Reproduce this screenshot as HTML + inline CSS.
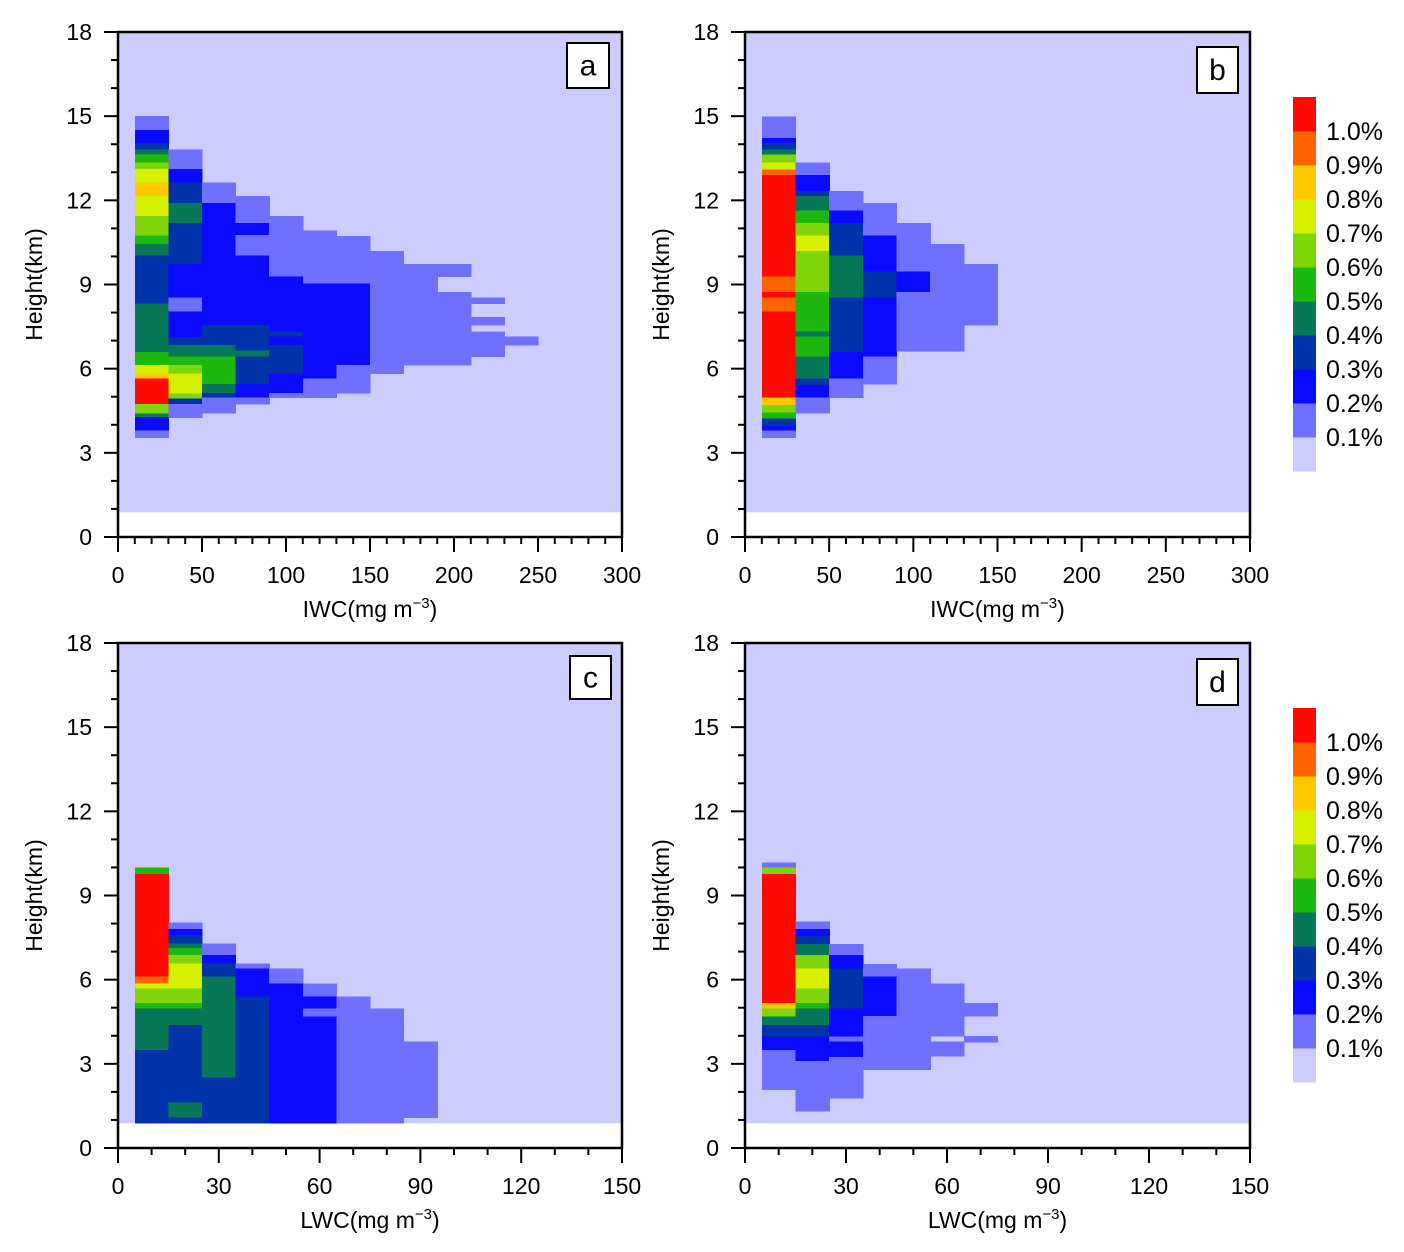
<!DOCTYPE html>
<html><head><meta charset="utf-8">
<style>
html,body{margin:0;padding:0;background:#fff;}
svg{display:block;font-family:"Liberation Sans",sans-serif;}
</style></head>
<body>
<svg id="fig" width="1404" height="1252" viewBox="0 0 1404 1252" xmlns="http://www.w3.org/2000/svg"></svg>
<script>
// ---- data: bin starts (x units) and, per column, [bottom km, top km, frequency %] ----
const binStartsA = [10,30,50,70,90,110,130,150,170,190,210,230];
const segsA = [
 [[14.5,15.0,.15],[14.05,14.5,.25],[13.82,14.05,.35],[13.64,13.82,.45],[13.34,13.64,.55],[13.11,13.34,.65],[12.63,13.11,.75],[12.15,12.63,.85],[11.44,12.15,.75],[10.74,11.44,.65],[10.44,10.74,.55],[10.03,10.44,.45],[8.33,10.03,.35],[6.6,8.33,.45],[6.13,6.6,.55],[5.83,6.13,.75],[5.65,5.83,.85],[4.74,5.65,1.2],[4.41,4.74,.65],[4.27,4.41,.45],[3.79,4.27,.25],[3.55,3.79,.15]],
 [[13.11,13.82,.15],[12.63,13.11,.25],[11.91,12.63,.35],[11.2,11.91,.45],[9.73,11.2,.35],[8.54,9.73,.25],[8.03,8.54,.15],[7.12,8.03,.25],[6.84,7.12,.35],[6.43,6.84,.45],[6.13,6.43,.55],[5.83,6.13,.65],[5.12,5.83,.75],[4.94,5.12,.65],[4.74,4.94,.35],[4.27,4.74,.15]],
 [[11.91,12.63,.15],[7.56,11.91,.25],[6.84,7.56,.35],[6.43,6.84,.45],[5.45,6.43,.55],[5.14,5.45,.45],[4.98,5.14,.35],[4.43,4.98,.15]],
 [[11.2,12.15,.15],[10.76,11.2,.25],[10.03,10.76,.15],[7.56,10.03,.25],[6.65,7.56,.35],[6.43,6.65,.45],[5.45,6.43,.35],[4.98,5.45,.25],[4.74,4.98,.15]],
 [[9.28,11.44,.15],[7.32,9.28,.25],[7.14,7.32,.35],[6.84,7.14,.25],[5.83,6.84,.35],[5.14,5.83,.25],[4.98,5.14,.15]],
 [[9.04,10.92,.15],[5.65,9.04,.25],[4.98,5.65,.15]],
 [[9.04,10.73,.15],[6.13,9.04,.25],[5.14,6.13,.15]],
 [[5.83,10.2,.15]],
 [[6.13,9.73,.15]],
 [[9.28,9.73,.15],[6.13,8.74,.15]],
 [[8.33,8.54,.15],[7.56,7.85,.15],[6.43,7.32,.15]],
 [[6.84,7.14,.15]]
];
const binStartsB = [10,30,50,70,90,110,130];
const segsB = [
 [[14.23,14.98,.15],[14.05,14.23,.25],[13.82,14.05,.35],[13.64,13.82,.45],[13.34,13.64,.65],[13.1,13.34,.75],[12.9,13.1,.95],[9.28,12.9,1.2],[8.74,9.28,.95],[8.54,8.74,1.2],[8.03,8.54,.95],[4.98,8.03,1.2],[4.7,4.98,.85],[4.43,4.7,.65],[4.23,4.43,.55],[3.96,4.23,.35],[3.79,3.96,.25],[3.55,3.79,.15]],
 [[12.9,13.34,.15],[12.34,12.9,.25],[12.15,12.34,.35],[11.63,12.15,.45],[11.2,11.63,.55],[10.74,11.2,.65],[10.2,10.74,.75],[8.74,10.2,.65],[7.32,8.74,.55],[7.14,7.32,.45],[6.43,7.14,.55],[5.65,6.43,.45],[5.41,5.65,.35],[4.98,5.41,.25],[4.43,4.98,.15]],
 [[11.63,12.34,.15],[11.2,11.63,.25],[10.03,11.2,.35],[8.54,10.03,.45],[6.6,8.54,.35],[5.65,6.6,.25],[4.98,5.65,.15]],
 [[10.74,11.91,.15],[9.46,10.74,.25],[8.54,9.46,.35],[6.43,8.54,.25],[5.45,6.43,.15]],
 [[9.46,11.2,.15],[8.74,9.46,.25],[6.64,8.74,.15]],
 [[6.64,10.44,.15]],
 [[7.56,9.73,.15]]
];
const binStartsC = [5,15,25,35,45,55,65,75,85];
const segsC = [
 [[9.77,10.0,.55],[6.11,9.77,1.2],[5.87,6.11,.95],[5.69,5.87,.75],[5.16,5.69,.65],[4.98,5.16,.55],[3.49,4.98,.45],[0.9,3.49,.35]],
 [[7.8,8.04,.15],[7.59,7.8,.25],[7.29,7.59,.35],[7.12,7.29,.45],[6.88,7.12,.55],[6.58,6.88,.65],[5.69,6.58,.75],[5.16,5.69,.65],[4.98,5.16,.55],[4.38,4.98,.45],[1.62,4.38,.35],[1.09,1.62,.45],[0.9,1.09,.35]],
 [[6.88,7.29,.15],[6.58,6.88,.25],[6.11,6.58,.35],[2.51,6.11,.45],[0.9,2.51,.35]],
 [[6.4,6.58,.15],[5.4,6.4,.25],[0.9,5.4,.35]],
 [[5.87,6.4,.15],[0.9,5.87,.25]],
 [[5.4,5.87,.15],[4.98,5.4,.25],[4.68,4.98,.15],[0.9,4.68,.25]],
 [[0.9,5.4,.15]],
 [[0.9,4.98,.15]],
 [[1.09,3.79,.15]]
];
const binStartsD = [5,15,25,35,45,55,65];
const segsD = [
 [[10.0,10.17,.15],[9.77,10.0,.65],[5.16,9.77,1.2],[4.98,5.16,.85],[4.68,4.98,.65],[4.38,4.68,.45],[3.97,4.38,.35],[3.49,3.97,.25],[2.09,3.49,.15]],
 [[7.8,8.07,.15],[7.56,7.8,.25],[7.27,7.56,.35],[6.88,7.27,.45],[6.4,6.88,.65],[5.69,6.4,.75],[5.16,5.69,.65],[4.98,5.16,.55],[4.38,4.98,.45],[3.97,4.38,.35],[3.1,3.97,.25],[1.33,3.1,.15]],
 [[6.88,7.27,.15],[6.4,6.88,.25],[4.98,6.4,.35],[3.97,4.98,.25],[3.79,3.97,.15],[3.25,3.79,.25],[1.79,3.25,.15]],
 [[6.11,6.56,.15],[4.7,6.11,.25],[2.8,4.7,.15]],
 [[2.8,6.4,.15]],
 [[3.99,5.87,.15],[3.28,3.79,.15]],
 [[4.7,5.16,.15],[3.79,3.99,.15]]
];
const levelLabels = ["0.1%","0.2%","0.3%","0.4%","0.5%","0.6%","0.7%","0.8%","0.9%","1.0%"];
const levelThresholds = [0.1,0.2,0.3,0.4,0.5,0.6,0.7,0.8,0.9,1.0];
const yTicks = [0,3,6,9,12,15,18];
const xTicksIWC = [0,50,100,150,200,250,300];
const xTicksLWC = [0,30,60,90,120,150];

const palette = ["#ccccff","#7070ff","#0a0aff","#0033aa","#067757","#1cb80e","#7ed60a","#d4f000","#ffc800","#ff6400","#ff0a00"];
function colorFor(v){let i=0;for(const t of levelThresholds){if(v>=t)i++;}return palette[i];}

const NS="http://www.w3.org/2000/svg";
const svg=document.getElementById('fig');
function mk(tag,attrs,parent){const e=document.createElementNS(NS,tag);for(const k in attrs)e.setAttribute(k,attrs[k]);(parent||svg).appendChild(e);return e;}

const panels=[
 {id:'a',x0:118,x1:622,yT:32,yB:537,xmax:300,bins:binStartsA,w:20,segs:segsA,ticks:xTicksIWC,minor:10,title:'IWC',lab:[567,43,42,45]},
 {id:'b',x0:745,x1:1250,yT:32,yB:537,xmax:300,bins:binStartsB,w:20,segs:segsB,ticks:xTicksIWC,minor:10,title:'IWC',lab:[1197,47,41,46]},
 {id:'c',x0:118,x1:622,yT:643,yB:1148,xmax:150,bins:binStartsC,w:10,segs:segsC,ticks:xTicksLWC,minor:10,title:'LWC',lab:[570,656,41,43]},
 {id:'d',x0:745,x1:1250,yT:643,yB:1148,xmax:150,bins:binStartsD,w:10,segs:segsD,ticks:xTicksLWC,minor:10,title:'LWC',lab:[1197,659,41,46]}
];

panels.forEach(p=>{
 const g=mk('g',{});
 
 
 const sx=v=>p.x0+(v/p.xmax)*(p.x1-p.x0);
 const sy=h=>p.yB-(h/18)*(p.yB-p.yT);
 const bg=mk('rect',{x:p.x0,y:p.yT,width:p.x1-p.x0,height:sy(0.88)-p.yT,fill:palette[0]},g);
 
 
 const cells=mk('g',{'shape-rendering':'crispEdges'},g);
 
 
 p.segs.forEach((col,ci)=>{
  const xa=sx(p.bins[ci]),xb=sx(p.bins[ci]+p.w);
  col.forEach(s=>{
   const r=mk('rect',{x:xa.toFixed(2),y:sy(s[1]).toFixed(2),width:(xb-xa+0.6).toFixed(2),height:(sy(s[0])-sy(s[1])+0.6).toFixed(2),fill:colorFor(s[2])},cells);
   
   
  });
 });
 const fr=mk('rect',{x:p.x0,y:p.yT,width:p.x1-p.x0,height:p.yB-p.yT,fill:'none',stroke:'#000','stroke-width':2.5},g);
 
 
 for(let h=0;h<=18;h++){
  const major=h%3===0;
  mk('line',{x1:p.x0,x2:p.x0-(major?14:7),y1:sy(h),y2:sy(h),stroke:'#000','stroke-width':2},g);
 }
 yTicks.forEach(t=>{
  const tx=mk('text',{x:p.x0-26,y:sy(t)+8,'text-anchor':'end','font-size':23,fill:'#000'},g);
  tx.textContent=t;
  
  
 });
 for(let v=0;v<=p.xmax+0.001;v+=p.minor){
  const major=p.ticks.some(t=>Math.abs(t-v)<0.01);
  mk('line',{x1:sx(v),x2:sx(v),y1:p.yB,y2:p.yB+(major?15:7),stroke:'#000','stroke-width':2},g);
 }
 p.ticks.forEach(t=>{
  const tx=mk('text',{x:sx(t),y:p.yB+46,'text-anchor':'middle','font-size':23,fill:'#000'},g);
  tx.textContent=t;
  
  
 });
 const xt=mk('text',{x:(p.x0+p.x1)/2,y:p.yB+80,'text-anchor':'middle','font-size':23,fill:'#000'},g);
 xt.innerHTML=p.title+'(mg m<tspan font-size="15" dy="-9">\u22123</tspan><tspan dy="9">)</tspan>';
 
 
 const cy=(p.yT+p.yB)/2;
 const yt=mk('text',{x:p.x0-76,y:cy,'text-anchor':'middle','font-size':23,fill:'#000',transform:'rotate(-90 '+(p.x0-76)+' '+cy+')'},g);
 yt.textContent='Height(km)';
 
 
 const lb=mk('rect',{x:p.lab[0],y:p.lab[1],width:p.lab[2],height:p.lab[3],fill:'#fff',stroke:'#000','stroke-width':2},g);
 
 
 const lt=mk('text',{x:p.lab[0]+p.lab[2]/2,y:p.lab[1]+p.lab[3]/2+10,'text-anchor':'middle','font-size':30,fill:'#000'},g);
 lt.textContent=p.id;
 
 
});

[97,708].forEach(top=>{
 const g=mk('g',{});
 
 
 const bh=34;
 for(let i=0;i<11;i++){
  const r=mk('rect',{x:1293,y:top+(10-i)*bh,width:23,height:bh+0.5,fill:palette[i]},g);
  
  
 }
 levelLabels.forEach((l,i)=>{
  const t=mk('text',{x:1326,y:top+(10-i)*bh+9,'font-size':25,fill:'#000'},g);
  t.textContent=l;
  
  
 });
});
</script>
</body></html>
